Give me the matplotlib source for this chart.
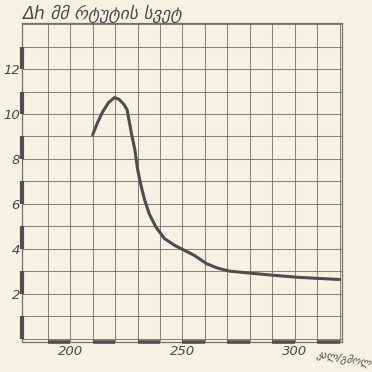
import matplotlib.pyplot as plt
import numpy as np

# curve
x_vals = [210.0, 212.1, 214.2, 217.0, 219.7, 221.8, 223.9, 225.3, 226.0,
          227.4, 228.8, 230.0, 231.2, 233.0, 235.2, 238.2, 242.0, 246.5,
          250.8, 255.3, 260.8, 265.5, 271.0, 281.3, 290.2, 300.9, 309.8,
          320.0]
y_vals = [9.07, 9.6, 10.05, 10.5, 10.73, 10.65, 10.43, 10.2, 9.83,
          9.07, 8.4, 7.55, 6.95, 6.22, 5.55, 4.96, 4.45, 4.15,
          3.93, 3.7, 3.33, 3.14, 3.0, 2.9, 2.82, 2.73, 2.68,
          2.63]

x_ticks = [200, 250, 300]
y_ticks = [2, 4, 6, 8, 10, 12]
title = "Δh მმ რტუტის სვეტ"
x_unit = "კალ/გმოლ"

PAPER = "#f6f2e3"
INK = "#4a4a4a"
GRID = "#72726a"

fig = plt.figure(figsize=(3.72, 3.72), dpi=100, facecolor=PAPER)
ax = fig.add_axes([0.059, 0.081, 0.86, 0.857])
ax.set_facecolor(PAPER)
ax.set_xlim(178.5, 321)
ax.set_ylim(-0.15, 14.05)

# graph paper grid
for gx in range(190, 321, 10):
    ax.axvline(gx, color=GRID, linewidth=0.75, alpha=0.85, zorder=1)
for gy in range(0, 15):
    ax.axhline(gy, color=GRID, linewidth=0.75, alpha=0.85, zorder=1)

# ruler bars along the axes
xl, xr = ax.get_xlim()
yb, yt = ax.get_ylim()
for x0 in range(190, 320, 20):
    ax.plot([x0, x0 + 10], [yb, yb], color="#505050", linewidth=2.6,
            solid_capstyle="butt", clip_on=False, zorder=3)
for y0 in range(0, 14, 2):
    ax.plot([xl, xl], [y0, y0 + 1], color="#505050", linewidth=3.0,
            solid_capstyle="butt", clip_on=False, zorder=3)

ax.plot(x_vals, y_vals, color="#4d4d4d", linewidth=2.2,
        solid_capstyle="round", solid_joinstyle="round", zorder=4)

for s in ax.spines.values():
    s.set_color(GRID)
    s.set_linewidth(0.9)

ax.set_xticks(x_ticks)
ax.set_yticks(y_ticks)
ax.tick_params(axis="x", length=0, labelcolor=INK, labelsize=9.5, pad=2)
ax.tick_params(axis="y", length=0, labelcolor=INK, labelsize=9.5, pad=1.5)
for lab in ax.get_xticklabels() + ax.get_yticklabels():
    lab.set_fontstyle("italic")

fig.text(0.059, 1 - 14 / 372, title, ha="left", va="center",
         fontsize=12.5, fontstyle="italic", color=INK)
ax.text(0.918, -0.02, x_unit, transform=ax.transAxes, ha="left", va="top",
        fontsize=7.5, fontstyle="italic", color=INK, rotation=-10)

plt.savefig("out.png", dpi=100, facecolor=PAPER)
